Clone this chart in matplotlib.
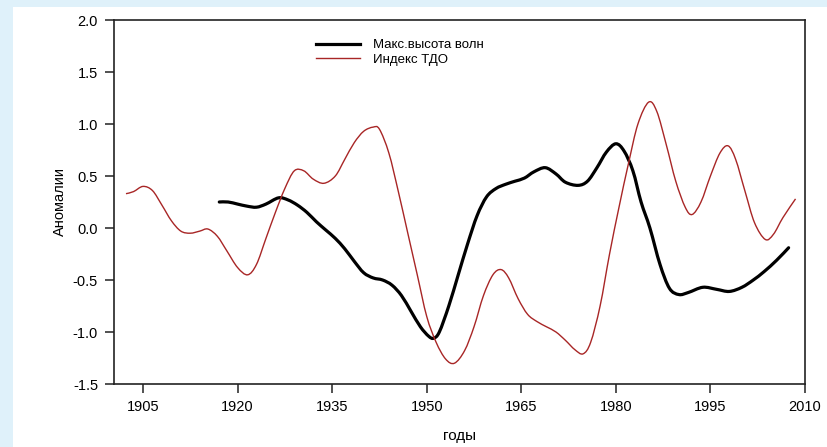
import matplotlib
matplotlib.use("Agg")
import matplotlib.pyplot as plt
import numpy as np
from matplotlib.patches import Rectangle, PathPatch
from matplotlib.path import Path
from matplotlib.lines import Line2D

plt.rcParams['font.family'] = ['Liberation Sans', 'DejaVu Sans']

# Индекс ТДО (year, anomaly)
pdo_years = [1902.3, 1903.5, 1905, 1906.5, 1908, 1909.5, 1911, 1912.5, 1914, 1915.3,
             1916.8, 1918.3, 1920, 1921.6, 1923, 1924.5, 1926, 1927.5, 1929, 1930.5,
             1932, 1933.7, 1935.5, 1937, 1938.5, 1940, 1941.5, 1942.5, 1944, 1945.5,
             1947, 1948.5, 1950, 1951.5, 1953, 1954.4, 1956, 1957.5, 1959, 1960.5,
             1961.8, 1963, 1964.5, 1966, 1967.5, 1969, 1970.5, 1972, 1973.5, 1974.8,
             1976, 1977.5, 1979, 1980.5, 1982, 1983.5, 1985.2, 1986.5, 1988, 1989.5,
             1991, 1992.1, 1993.5, 1995, 1996.5, 1997.8, 1999, 2000.5, 2002, 2003.7,
             2005, 2006.5, 2008.5]
pdo_values = [0.33, 0.35, 0.40, 0.36, 0.22, 0.07, -0.03, -0.05, -0.03, -0.01,
              -0.08, -0.22, -0.38, -0.45, -0.35, -0.10, 0.15, 0.38, 0.55, 0.55,
              0.47, 0.43, 0.50, 0.66, 0.82, 0.93, 0.97, 0.95, 0.72, 0.35,
              -0.05, -0.45, -0.85, -1.10, -1.26, -1.30, -1.18, -0.95, -0.65, -0.45,
              -0.40, -0.48, -0.68, -0.83, -0.90, -0.95, -1.00, -1.08, -1.17, -1.21,
              -1.10, -0.75, -0.25, 0.20, 0.62, 1.00, 1.21, 1.12, 0.80, 0.45,
              0.20, 0.13, 0.25, 0.50, 0.72, 0.79, 0.66, 0.35, 0.05, -0.11,
              -0.06, 0.10, 0.28]

# Макс. высота волн (year, anomaly)
wave_years = [1917.1, 1918.5, 1920, 1921.5, 1923, 1924.5, 1926.5, 1928, 1929.5, 1931,
              1932.5, 1934, 1935.5, 1937, 1938.5, 1940, 1941.5, 1943, 1944.5, 1946,
              1947.5, 1949, 1950.3, 1951.1, 1952, 1953.5, 1955, 1956.5, 1958, 1959.5,
              1961, 1962.5, 1964, 1965.5, 1967, 1968.8, 1970.5, 1972, 1974, 1975.5,
              1977, 1978.5, 1980, 1981.3, 1982.7, 1984, 1985.4, 1987, 1988.5, 1990,
              1991.5, 1993.8, 1996, 1998, 2000, 2001.8, 2003.5, 2005.5, 2007.4]
wave_values = [0.25, 0.25, 0.23, 0.21, 0.20, 0.23, 0.29, 0.27, 0.22, 0.15,
               0.06, -0.02, -0.10, -0.20, -0.32, -0.43, -0.48, -0.50, -0.55, -0.65,
               -0.80, -0.95, -1.04, -1.06, -1.00, -0.75, -0.45, -0.15, 0.12, 0.30,
               0.38, 0.42, 0.45, 0.48, 0.54, 0.58, 0.52, 0.44, 0.41, 0.45,
               0.58, 0.73, 0.81, 0.74, 0.55, 0.25, 0.00, -0.35, -0.58, -0.64,
               -0.62, -0.57, -0.59, -0.61, -0.57, -0.50, -0.42, -0.31, -0.19]

series_labels = ['Макс.высота волн', 'Индекс ТДО']
x_ticks = [1905, 1920, 1935, 1950, 1965, 1980, 1995, 2010]
y_ticks = [-1.5, -1.0, -0.5, 0.0, 0.5, 1.0, 1.5, 2.0]

WAVE_COLOR = 'black'
PDO_COLOR = '#a82626'


def smooth_path(xs, ys):
    """Cubic Bezier path passing through every (x, y) node (Catmull-Rom tangents)."""
    p = np.column_stack([xs, ys]).astype(float)
    n = len(p)
    verts = [p[0]]
    codes = [Path.MOVETO]
    for i in range(n - 1):
        p0 = p[i - 1] if i > 0 else p[i]
        p1, p2 = p[i], p[i + 1]
        p3 = p[i + 2] if i + 2 < n else p[i + 1]
        c1 = p1 + (p2 - p0) / 6.0
        c2 = p2 - (p3 - p1) / 6.0
        verts += [c1, c2, p2]
        codes += [Path.CURVE4] * 3
    return Path(verts, codes)


fig = plt.figure(figsize=(8.27, 4.47), dpi=100, facecolor='#dff1fa')
# white panel behind the chart
fig.patches.append(Rectangle((13 / 827, 0), 1 - 13 / 827, 1 - 7 / 447,
                             transform=fig.transFigure, facecolor='white',
                             edgecolor='none', zorder=-5))

ax = fig.add_axes([114 / 827, 1 - 384 / 447, (805 - 114) / 827, (384 - 20) / 447])
ax.set_zorder(5)
ax.set_facecolor('white')

ax.add_patch(PathPatch(smooth_path(wave_years, wave_values), facecolor='none',
                       edgecolor=WAVE_COLOR, lw=2.3, capstyle='round',
                       joinstyle='round', transform=ax.transData))
ax.add_patch(PathPatch(smooth_path(pdo_years, pdo_values), facecolor='none',
                       edgecolor=PDO_COLOR, lw=1.0, joinstyle='round',
                       transform=ax.transData))

ax.set_xlim(1900.4, 2010)
ax.set_ylim(-1.5, 2.0)
ax.set_xticks(x_ticks)
ax.set_xticklabels([str(t) for t in x_ticks])
ax.set_yticks(y_ticks)
ax.set_yticklabels([f'{t:.1f}' for t in y_ticks])

for s in ax.spines.values():
    s.set_linewidth(1.2)
    s.set_color('#222222')
ax.tick_params(direction='out', length=6.5, width=1.1, color='#222222',
               labelsize=10.5, pad=5)

ax.set_xlabel('годы', fontsize=11, labelpad=11)
ax.set_ylabel('Аномалии', fontsize=10.5, labelpad=4)

handles = [Line2D([], [], color=WAVE_COLOR, lw=2.3),
           Line2D([], [], color=PDO_COLOR, lw=1.0)]
ax.legend(handles, series_labels, loc='upper left', bbox_to_anchor=(0.293, 0.948),
          frameon=False, fontsize=9.5, handlelength=3.3, handletextpad=1.0,
          labelspacing=0.2, borderpad=0, borderaxespad=0)

fig.savefig('out.png', dpi=100, facecolor=fig.get_facecolor())
